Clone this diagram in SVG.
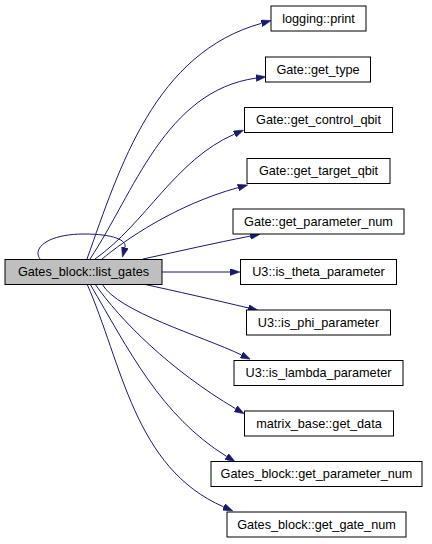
<svg xmlns="http://www.w3.org/2000/svg" width="432" height="544" viewBox="0 0 432 544">
<style>
.n rect{fill:#ffffff;stroke:#000000;stroke-width:1}
.n.main rect{fill:#bfbfbf}
.n text{font-family:"Liberation Sans",Arial,Helvetica,sans-serif;font-size:12.7px;text-anchor:middle;fill:#000000}
.e path{fill:none;stroke:#191970;stroke-width:1;marker-end:url(#ah)}
</style>
<defs>
<marker id="ah" viewBox="0 0 10 7" refX="0" refY="3.5" markerWidth="10" markerHeight="7" markerUnits="userSpaceOnUse" orient="auto">
<path d="M0,0 L10,3.5 L0,7 Z" fill="#191970" stroke="#191970" stroke-width="0.5"/>
</marker>
</defs>
<g id="edges" class="e">
<path d="M40,259 C32,248 48,234 84,234 C113,234 127,240 125,247.5"/>
<path d="M87,259 C120,166 155,53 261.5,23.3"/>
<path d="M90,259 C134,193 165,91 256,78.1"/>
<path d="M95,259 C146,223 175,160 234.5,134.1"/>
<path d="M102,259 C125,240 175,205 238.1,187.6"/>
<path d="M143,259 C180,251 215,243 250.2,236.1"/>
<path d="M162,272 L230,272"/>
<path d="M143,284 C175,291 215,300 248.2,307.9"/>
<path d="M102,284 C118,312 201,335.6 241.4,354.9"/>
<path d="M95,284 C120,320 170,370 235.6,408.7"/>
<path d="M90,284 C128.6,349.6 160.5,415.4 226.7,456.5"/>
<path d="M87,284 C122,363 134,468 223.7,506.9"/>
</g>
<g id="list_gates" class="n main"><rect x="5" y="259.5" width="157" height="25"/><text x="83.5" y="276">Gates_block::list_gates</text></g>
<g id="print" class="n"><rect x="271" y="6" width="95" height="25"/><text x="318.5" y="22.5">logging::print</text></g>
<g id="get_type" class="n"><rect x="265.5" y="57" width="105" height="25"/><text x="318" y="73.5">Gate::get_type</text></g>
<g id="get_control_qbit" class="n"><rect x="244.5" y="107.5" width="148" height="25"/><text x="318.5" y="124">Gate::get_control_qbit</text></g>
<g id="get_target_qbit" class="n"><rect x="247" y="158.5" width="143" height="25"/><text x="318.5" y="175">Gate::get_target_qbit</text></g>
<g id="gate_get_parameter_num" class="n"><rect x="233" y="209" width="171" height="25"/><text x="318.5" y="225.5">Gate::get_parameter_num</text></g>
<g id="is_theta_parameter" class="n"><rect x="240.5" y="259.5" width="156" height="25"/><text x="318.5" y="276">U3::is_theta_parameter</text></g>
<g id="is_phi_parameter" class="n"><rect x="246.5" y="310" width="144" height="25"/><text x="318.5" y="326.5">U3::is_phi_parameter</text></g>
<g id="is_lambda_parameter" class="n"><rect x="234" y="360.5" width="169" height="25"/><text x="318.5" y="377">U3::is_lambda_parameter</text></g>
<g id="get_data" class="n"><rect x="244.5" y="411" width="149" height="25"/><text x="319" y="427.5">matrix_base::get_data</text></g>
<g id="gb_get_parameter_num" class="n"><rect x="211" y="461.5" width="211" height="25"/><text x="316.5" y="478">Gates_block::get_parameter_num</text></g>
<g id="get_gate_num" class="n"><rect x="227" y="512" width="179" height="25"/><text x="316.5" y="528.5">Gates_block::get_gate_num</text></g>
</svg>
